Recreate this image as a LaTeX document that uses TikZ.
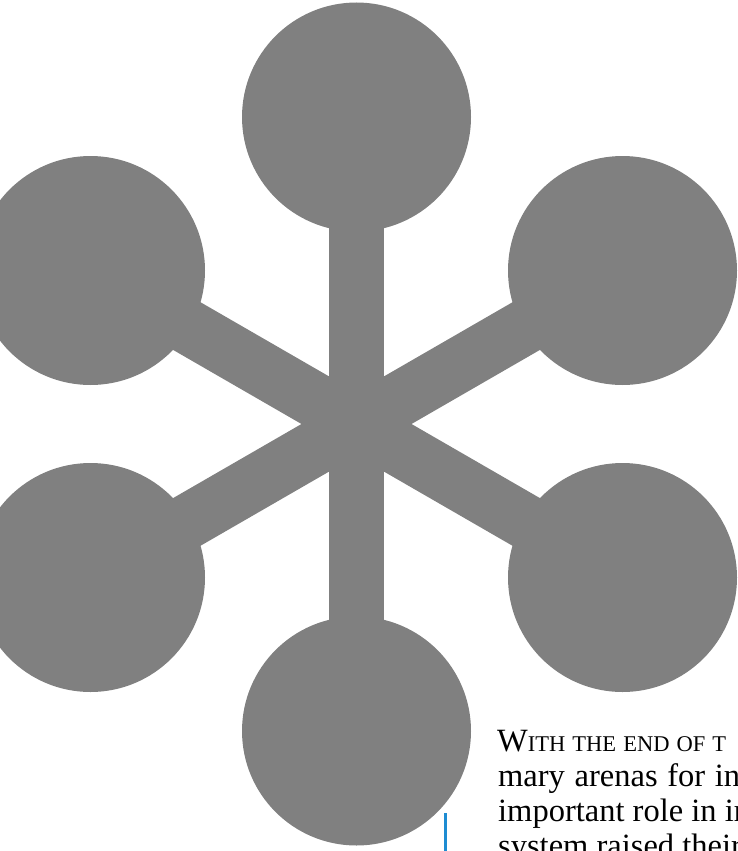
\documentclass[tikz,border=0pt]{standalone}
\usepackage{fontspec}
\setmainfont{Liberation Serif}
\usetikzlibrary{positioning}

\definecolor{hubgray}{RGB}{128,128,128}
\definecolor{ruleblue}{RGB}{30,140,210}

\newcommand{\fakesc}[2]{#1{\fontsize{22.5}{35}\selectfont #2}}

\begin{document}
\begin{tikzpicture}[x=1pt, y=-1pt,
    ball/.style={circle, fill=hubgray, minimum size=229pt, inner sep=0pt},
    spoke/.style={draw=hubgray, line width=55pt},
    bodytext/.style={anchor=base west, inner sep=0pt, font=\fontsize{32.5}{35}\selectfont}]
    \useasboundingbox (0,0) rectangle (738,851);
    \clip (0,0) rectangle (738,851);

    % Hub
    \coordinate (hub) at (356.5, 424);

    % Balls
    \node[ball] (top) at (356.5, 117) {};
    \node[ball] (bot) at (356.5, 731) {};
    \node[ball] (lt) at (90.5, 270.5) {};
    \node[ball] (rt) at (622.5, 270.5) {};
    \node[ball] (lb) at (90.5, 577.5) {};
    \node[ball] (rb) at (622.5, 577.5) {};

    % Spokes
    \draw[spoke] (hub) -- (top.center);
    \draw[spoke] (hub) -- (bot.center);
    \draw[spoke] (hub) -- (lt.center);
    \draw[spoke] (hub) -- (rt.center);
    \draw[spoke] (hub) -- (lb.center);
    \draw[spoke] (hub) -- (rb.center);

    % Text
    \node[bodytext] (line1) at (497, 751)
        {\makebox[229pt][s]{\fakesc{W}{ITH THE END OF T}}};
    \node[bodytext] (line2) at (498, 786) {\makebox[242pt][s]{mary arenas for in}};
    \node[bodytext] (line3) at (498, 821) {important role in in};
    \node[bodytext] (line4) at (498, 856) {system raised their};

    % Rule
    \coordinate (ruletop) at (445.3, 813);
    \coordinate (rulebot) at (445.3, 851);
    \draw[ruleblue, line width=2.5pt] (ruletop) -- (rulebot);
\end{tikzpicture}
\end{document}
